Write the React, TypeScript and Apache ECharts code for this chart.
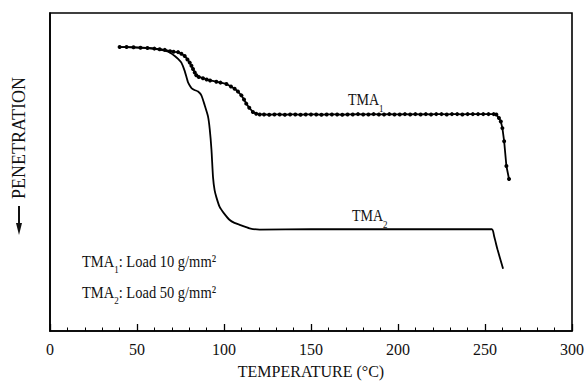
import React, { useEffect, useRef } from "react";
import * as echarts from "echarts";

// TMA1 (load 10 g/mm2) — temperature (°C) and relative penetration (arb. units)
const temps1 = [
  40, 44, 48, 52, 56, 60, 63, 66, 69, 71, 73.6, 75.5, 77.4, 79, 80.3, 81.3, 82.2, 83.2, 84.1, 85.5,
  87.9, 90, 92, 95.6, 98, 101.4, 104, 106.1, 108, 110, 111.5, 112.8, 114.5, 116.6, 118.5, 120.5,
  123, 126, 129, 132, 135, 138, 141, 144, 147, 150, 153, 156, 159, 162, 165, 168, 171, 174, 177,
  180, 183, 186, 189, 192, 195, 198, 201, 204, 207, 210, 213, 216, 219, 222, 225, 228, 231, 234,
  237, 240, 243, 246, 249, 252, 255, 256.5, 258, 259.1, 260, 261, 262.3, 263.8,
];
const pen1 = [
  89.3, 89.3, 89.2, 89.1, 89.0, 88.8, 88.6, 88.4, 88.0, 87.8, 87.7, 87.2, 86.5, 85.4, 84.4, 83.4,
  82.4, 81.3, 80.4, 79.9, 79.5, 79.1, 78.8, 78.4, 78.1, 77.7, 76.9, 76.2, 75.3, 74.1, 72.8, 71.5,
  70.2, 68.9, 68.3, 68.1,
  68.1, 68.0, 68.1, 68.1, 68.0, 68.1, 68.1, 68.0, 68.1, 68.1, 68.1, 68.0, 68.1, 68.1, 68.1, 68.0,
  68.1, 68.1, 68.2, 68.1, 68.1, 68.2, 68.1, 68.1, 68.2, 68.1, 68.1, 68.2, 68.1, 68.2, 68.1, 68.2,
  68.1, 68.2, 68.2, 68.1, 68.2, 68.2, 68.1, 68.2, 68.2, 68.2, 68.2, 68.2, 68.2,
  68.1, 67.0, 65.9, 63.8, 59.7, 51.9, 47.8,
];

// TMA2 (load 50 g/mm2)
const temps2 = [
  40, 48, 56, 62, 66.9, 69, 71.7, 73.6, 75.5, 77.4, 79.3, 80.3, 81.3, 83, 85.1, 87, 88.9, 90.8,
  91.8, 92.8, 93.7, 94.6, 95.6, 97.5, 100, 103.3, 106, 109, 114.7, 120.5, 150, 200, 253.9, 255.3,
  257.2, 260.4,
];
const pen2 = [
  89.3, 89.2, 89.0, 88.6, 88.0, 87.5, 86.5, 85.6, 84.4, 81.8, 78.2, 77.2, 76.4, 75.8, 75.3, 74.1,
  71.0, 67.5, 63.5, 57.0, 48.3, 44.3, 42.1, 39.0, 37.0, 34.9, 34.0, 33.4, 32.3, 31.9, 32.0, 32.0,
  32.0, 29.7, 25.6, 19.6,
];

const xTickLabels = [0, 50, 100, 150, 200, 250, 300];

const FONT = "'Liberation Serif', 'Times New Roman', serif";

export default function App() {
  const ref = useRef<HTMLDivElement>(null);
  useEffect(() => {
    if (!ref.current) return;
    const chart = echarts.init(ref.current, null, { renderer: "svg" });
    const d1 = temps1.map((t, i) => [t, pen1[i]]);
    const d2 = temps2.map((t, i) => [t, pen2[i]]);
    const richStyle = (size: number, lh: number, subLh: number) => ({
      t: { fontFamily: FONT, fontSize: size, fill: "#111", lineHeight: lh, verticalAlign: "middle" },
      s: { fontFamily: FONT, fontSize: 9, fill: "#111", lineHeight: subLh, verticalAlign: "bottom" },
    });
    chart.setOption({
      animation: false,
      backgroundColor: "#fff",
      grid: {
        left: 50,
        right: 14.5,
        top: 13,
        bottom: 48,
        show: true,
        borderColor: "#000",
        borderWidth: 1.6,
      },
      xAxis: {
        type: "value",
        min: 0,
        max: 300,
        interval: 50,
        name: "TEMPERATURE (°C)",
        nameLocation: "middle",
        nameGap: 32,
        nameTextStyle: { fontFamily: FONT, fontSize: 16, color: "#111" },
        axisLine: { show: true, lineStyle: { color: "#000", width: 1.6 } },
        axisTick: { show: true, inside: true, length: 7, lineStyle: { color: "#000", width: 1.3 } },
        minorTick: { show: true, splitNumber: 5, length: 3.5, lineStyle: { color: "#000", width: 1 } },
        splitLine: { show: false },
        axisLabel: {
          fontFamily: FONT,
          fontSize: 16,
          color: "#111",
          margin: 10,
          formatter: (v: number) => (xTickLabels.includes(v) ? String(v) : ""),
        },
      },
      yAxis: {
        type: "value",
        min: 0,
        max: 100,
        axisLine: { show: true, lineStyle: { color: "#000", width: 1.6 } },
        axisTick: { show: false },
        axisLabel: { show: false },
        splitLine: { show: false },
      },
      series: [
        {
          name: "TMA1",
          type: "line",
          data: d1,
          symbol: "circle",
          symbolSize: 4,
          showSymbol: true,
          lineStyle: { color: "#000", width: 1.8 },
          itemStyle: { color: "#000" },
          z: 3,
        },
        {
          name: "TMA2",
          type: "line",
          data: d2,
          symbol: "none",
          smooth: 0.2,
          lineStyle: { color: "#000", width: 1.8 },
          z: 2,
        },
      ],
      graphic: [
        {
          type: "text",
          x: 19,
          y: 138,
          rotation: Math.PI / 2,
          style: {
            text: "PENETRATION",
            fontFamily: FONT,
            fontSize: 18,
            fill: "#111",
            align: "center",
            verticalAlign: "middle",
            textAlign: "center",
            textVerticalAlign: "middle",
          },
        },
        {
          type: "line",
          shape: { x1: 19, y1: 206, x2: 19, y2: 228 },
          style: { stroke: "#111", lineWidth: 2 },
        },
        {
          type: "polygon",
          shape: { points: [[16, 223], [22, 223], [19, 235]] },
          style: { fill: "#111" },
        },
        {
          type: "text",
          x: 348,
          y: 100,
          scaleY: 1.15,
          style: {
            text: "{t|TMA}{s|1}",
            rich: richStyle(14, 24, 8),
            align: "left",
            verticalAlign: "middle",
            textAlign: "left",
            textVerticalAlign: "middle",
          },
        },
        {
          type: "text",
          x: 352,
          y: 216,
          scaleY: 1.15,
          style: {
            text: "{t|TMA}{s|2}",
            rich: richStyle(14, 24, 8),
            align: "left",
            verticalAlign: "middle",
            textAlign: "left",
            textVerticalAlign: "middle",
          },
        },
        {
          type: "text",
          x: 82,
          y: 261,
          scaleY: 1.2,
          style: {
            text: "{t|TMA}{s|1}{t|: Load 10 g/mm²}",
            rich: richStyle(14.5, 22, 8),
            align: "left",
            verticalAlign: "middle",
            textAlign: "left",
            textVerticalAlign: "middle",
          },
        },
        {
          type: "text",
          x: 82,
          y: 292,
          scaleY: 1.2,
          style: {
            text: "{t|TMA}{s|2}{t|: Load 50 g/mm²}",
            rich: richStyle(14.5, 22, 8),
            align: "left",
            verticalAlign: "middle",
            textAlign: "left",
            textVerticalAlign: "middle",
          },
        },
      ],
    });
    return () => chart.dispose();
  }, []);
  return (
    <div
      ref={ref}
      style={{ position: "fixed", left: 0, top: 0, width: 587, height: 384, background: "#fff" }}
    />
  );
}
